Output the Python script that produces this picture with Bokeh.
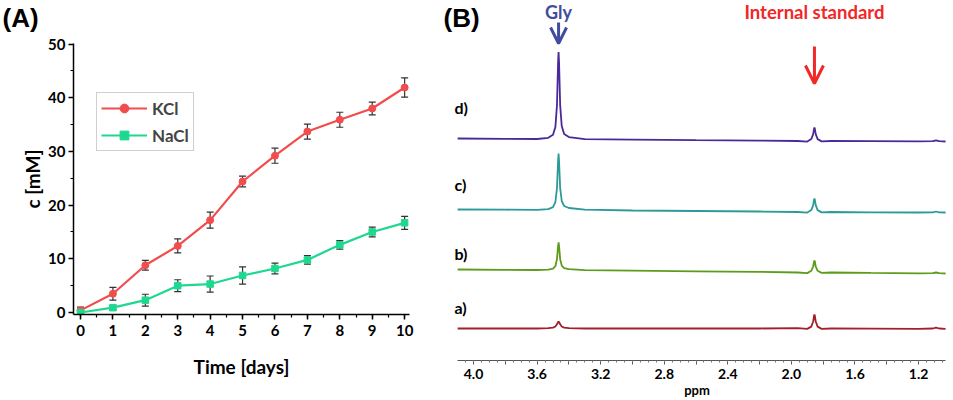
from bokeh.plotting import figure
from bokeh.layouts import row, column
from bokeh.models import (ColumnDataSource, Whisker, TeeHead, Label, Arrow, OpenHead,
                          SingleIntervalTicker, FixedTicker, Range1d, PrintfTickFormatter)
from bokeh.embed import file_html
from bokeh.resources import INLINE

# ---------------- Panel A data ----------------
days = [0, 1, 2, 3, 4, 5, 6, 7, 8, 9, 10]
kcl = [0.4, 3.5, 8.8, 12.4, 17.2, 24.4, 29.2, 33.7, 35.9, 38.0, 41.9]
kcl_err = [0.6, 1.2, 0.9, 1.3, 1.5, 1.0, 1.4, 1.4, 1.4, 1.2, 1.8]
nacl = [0.0, 0.9, 2.3, 5.0, 5.3, 6.9, 8.2, 9.8, 12.6, 15.0, 16.7]
nacl_err = [0.3, 0.4, 1.1, 1.1, 1.5, 1.6, 1.0, 0.8, 0.8, 0.9, 1.2]

# ---------------- Panel B data ----------------
ppm = [4.10, 3.80, 3.60, 3.53, 3.50, 3.485, 3.475, 3.468, 3.465, 3.462, 3.455, 3.445,
       3.43, 3.40, 3.30, 3.00, 2.60, 2.20, 1.96, 1.90, 1.875, 1.863, 1.857, 1.855,
       1.853, 1.847, 1.835, 1.81, 1.75, 1.50, 1.20, 1.11, 1.09, 1.07, 1.03]
spec_a = [0, 0, 0, 0.3, 0.9, 2.0, 4.2, 6.5, 7.0, 6.5, 4.2, 2.0,
          0.9, 0.3, 0, 0, 0, 0, 0.3, -0.4, 1.9, 7.0, 13.2, 14.0,
          13.2, 7.0, 1.9, -0.4, 0, -0.2, -0.3, 0, 0.8, 0, -0.3]
spec_b = [1.0, 0.7, 0.5, 0.8, 1.8, 4.3, 11.4, 24.7, 28.0, 24.7, 11.4, 4.9,
          2.4, 1.3, 0.3, -0.2, -0.8, -1.4, -2.0, -2.6, -0.3, 4.0, 9.3, 10.0,
          9.3, 4.0, -0.3, -2.4, -2.0, -2.4, -2.8, -2.7, -2.0, -2.7, -3.0]
spec_c = [1.0, 0.8, 0.6, 1.3, 3.3, 8.3, 22.5, 49.5, 57.0, 49.5, 22.5, 9.5,
          4.5, 2.5, 0.9, 0.0, -0.5, -1.0, -1.5, -2.1, 0.4, 5.3, 11.2, 12.0,
          11.2, 5.3, 0.4, -1.9, -1.5, -1.8, -2.0, -1.8, -1.0, -1.8, -2.0]
spec_d = [1.5, 1.2, 1.0, 2.2, 5.3, 12.9, 34.9, 77.9, 87.9, 77.9, 34.9, 13.9,
          5.9, 2.9, 0.8, 0.4, -0.2, -0.6, -1.0, -1.6, 0.9, 5.8, 11.7, 12.5,
          11.7, 5.8, 0.9, -1.4, -1.0, -1.2, -1.4, -1.2, -0.3, -1.2, -1.5]
spec_names = ["a)", "b)", "c)", "d)"]
spec_offsets = [32, 90, 150, 220.5]
spec_label_y = [53, 107, 176, 253]
spec_colors = ["#a3202a", "#5c9c1c", "#2b9a98", "#4a2a98"]
gly_ppm = 3.465
is_ppm = 1.855
x_ticks_b = [1.2, 1.4, 1.6, 1.8, 2.0, 2.2, 2.4, 2.6, 2.8, 3.0, 3.2, 3.4, 3.6, 3.8, 4.0]
x_labels_hidden = [1.4, 1.8, 2.2, 2.6, 3.0, 3.4, 3.8]

FONT = "Lato"
KCL_COLOR = "#f24c4c"
NACL_COLOR = "#1fd88f"

# ================= Panel A heading strip =================
ph = figure(frame_width=443, frame_height=33, min_border=0,
            x_range=Range1d(0, 443), y_range=Range1d(0, 33),
            output_backend="svg", toolbar_location=None)
ph.axis.visible = False
ph.grid.visible = False
ph.outline_line_color = None
ph.add_layout(Label(x=2, y=16, text="(A)", text_font="Liberation Sans",
                    text_font_style="bold", text_font_size="26px",
                    text_baseline="alphabetic", text_align="left", text_color="black"))

# ================= Panel A =================
pa = figure(frame_width=336, frame_height=271, min_border_left=73, min_border_right=34,
            min_border_top=10, min_border_bottom=86,
            x_range=Range1d(-0.216, 10.15), y_range=Range1d(-0.37, 50.1),
            output_backend="svg", toolbar_location=None)
pa.outline_line_color = None
pa.grid.visible = False
pa.background_fill_color = "white"
pa.border_fill_color = "white"

src_k = ColumnDataSource(dict(x=days, y=kcl,
                              lo=[v - e for v, e in zip(kcl, kcl_err)],
                              hi=[v + e for v, e in zip(kcl, kcl_err)]))
src_n = ColumnDataSource(dict(x=days, y=nacl,
                              lo=[v - e for v, e in zip(nacl, nacl_err)],
                              hi=[v + e for v, e in zip(nacl, nacl_err)]))

for src in (src_k, src_n):
    w = Whisker(source=src, base="x", lower="lo", upper="hi",
                line_color="#333333", line_width=1.2,
                upper_head=TeeHead(size=7, line_color="#333333", line_width=1.2),
                lower_head=TeeHead(size=7, line_color="#333333", line_width=1.2))
    pa.add_layout(w)

pa.line("x", "y", source=src_k, line_color=KCL_COLOR, line_width=2.2, legend_label="KCl")
pa.scatter("x", "y", source=src_k, marker="circle", size=7, fill_color=KCL_COLOR,
           line_color=KCL_COLOR, legend_label="KCl")
pa.line("x", "y", source=src_n, line_color=NACL_COLOR, line_width=2.2, legend_label="NaCl")
pa.scatter("x", "y", source=src_n, marker="square", size=6.5, fill_color=NACL_COLOR,
           line_color=NACL_COLOR, legend_label="NaCl")

pa.xaxis.ticker = SingleIntervalTicker(interval=1, num_minor_ticks=2)
pa.yaxis.ticker = SingleIntervalTicker(interval=10, num_minor_ticks=2)
for ax in (pa.xaxis, pa.yaxis):
    ax.axis_line_width = 1.5
    ax.axis_line_color = "black"
    ax.major_tick_line_width = 1.5
    ax.minor_tick_line_width = 1.2
    ax.major_tick_out = 5
    ax.major_tick_in = 0
    ax.minor_tick_out = 3
    ax.minor_tick_in = 0
    ax.major_label_text_font = FONT
    ax.major_label_text_font_style = "bold"
    ax.major_label_text_font_size = "15px"
    ax.major_label_text_color = "black"
    ax.axis_label_text_font = FONT
    ax.axis_label_text_font_style = "bold"
    ax.axis_label_text_color = "black"
pa.xaxis.major_label_standoff = 5
pa.yaxis.major_label_standoff = 3
pa.xaxis.axis_label = "Time [days]"
pa.yaxis.axis_label = "c [mM]"
pa.xaxis.axis_label_text_font_size = "19px"
pa.yaxis.axis_label_text_font_size = "19px"
pa.xaxis.axis_label_standoff = 16
pa.yaxis.axis_label_standoff = 1

lg = pa.legend[0]
lg.location = (23, 163)
lg.border_line_color = "#a0a0a0"
lg.border_line_width = 1.5
lg.background_fill_color = "white"
lg.background_fill_alpha = 1.0
lg.label_text_font = FONT
lg.label_text_font_style = "bold"
lg.label_text_font_size = "17px"
lg.padding = 4
lg.spacing = 5
lg.margin = 0
lg.glyph_width = 46
lg.glyph_height = 22
lg.label_standoff = 5
lg.label_height = 22

# ================= Panel B =================
pb = figure(frame_width=507, frame_height=360, min_border_left=0, min_border_right=0,
            min_border_top=0, min_border_bottom=40,
            x_range=Range1d(4.189, 0.999), y_range=Range1d(0, 360),
            output_backend="svg", toolbar_location=None)
pb.outline_line_color = None
pb.grid.visible = False
pb.yaxis.visible = False
pb.background_fill_color = "white"
pb.border_fill_color = "white"

for off, col, spec in zip(spec_offsets, spec_colors, [spec_a, spec_b, spec_c, spec_d]):
    pb.line(ppm, [off + v for v in spec], line_color=col, line_width=1.8)

minor_b = [round(1.05 + 0.05 * i, 2) for i in range(61)]
pb.xaxis.ticker = FixedTicker(ticks=x_ticks_b, minor_ticks=minor_b)
pb.xaxis.formatter = PrintfTickFormatter(format="%.1f")
pb.xaxis.major_label_overrides = {v: "" for v in x_labels_hidden}
ax = pb.xaxis[0]
ax.bounds = (1.03, 4.10)
ax.axis_line_color = "#555555"
ax.axis_line_width = 1.2
ax.major_tick_line_color = "#555555"
ax.minor_tick_line_color = "#777777"
ax.major_tick_out = 4
ax.major_tick_in = 0
ax.minor_tick_out = 2
ax.minor_tick_in = 0
ax.major_label_text_font = FONT
ax.major_label_text_font_style = "bold"
ax.major_label_text_font_size = "14px"
ax.major_label_text_color = "black"
ax.major_label_standoff = 4
ax.axis_label = "ppm"
ax.axis_label_text_font = FONT
ax.axis_label_text_font_style = "bold"
ax.axis_label_text_font_size = "13px"
ax.axis_label_text_color = "black"
ax.axis_label_standoff = 0

for name, ly in zip(spec_names, spec_label_y):
    pb.add_layout(Label(x=4.12, y=ly, text=name,
                        text_font=FONT, text_font_style="bold", text_font_size="16px",
                        text_baseline="middle", text_align="left", text_color="black"))

pb.add_layout(Label(x=4.189, y=343, text="(B)",
                    text_font="Liberation Sans", text_font_style="bold",
                    text_font_size="26px", text_baseline="alphabetic", text_align="left",
                    text_color="black"))

GLY_COLOR = "#414c9e"
IS_COLOR = "#f02828"
pb.add_layout(Label(x=gly_ppm, y=349, text="Gly", text_font=FONT, text_font_style="bold",
                    text_font_size="18px", text_baseline="middle", text_align="center",
                    text_color=GLY_COLOR))
pb.add_layout(Label(x=is_ppm, y=349, text="Internal standard", text_font=FONT,
                    text_font_style="bold", text_font_size="18.5px", text_baseline="middle",
                    text_align="center", text_color=IS_COLOR))
pb.add_layout(Arrow(x_start=gly_ppm, x_end=gly_ppm, y_start=338, y_end=317,
                    line_color=GLY_COLOR, line_width=3,
                    end=OpenHead(size=16, line_color=GLY_COLOR, line_width=3)))
pb.add_layout(Arrow(x_start=is_ppm, x_end=is_ppm, y_start=314, y_end=277,
                    line_color=IS_COLOR, line_width=3,
                    end=OpenHead(size=18, line_color=IS_COLOR, line_width=3)))

layout = row(column(row(ph), row(pa)), column(pb))
open("out.html", "w").write(file_html(layout, INLINE))
